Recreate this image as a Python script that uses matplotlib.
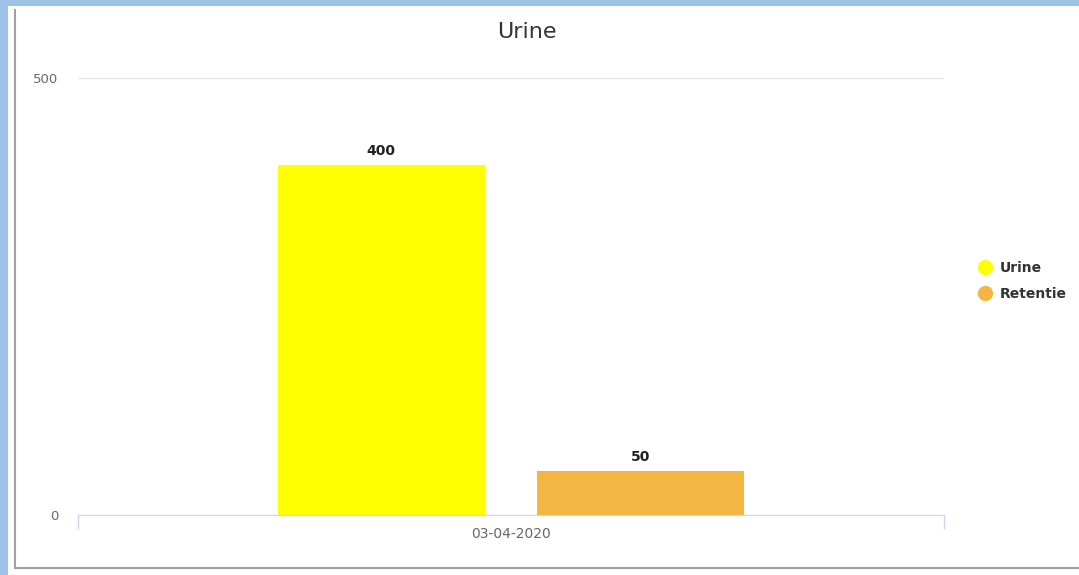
import matplotlib.pyplot as plt
from matplotlib.lines import Line2D
from matplotlib.patches import Rectangle

# chart data
title = "Urine"
category = "03-04-2020"
series_names = ["Urine", "Retentie"]
series_values = [400, 50]
series_colors = ["#ffff00", "#f4b642"]
y_max = 500

W, H = 1079, 575


def fx(px):
    return px / W


def fy(py):
    return 1 - py / H


fig = plt.figure(figsize=(W / 100, H / 100), dpi=100)
fig.patch.set_facecolor("#9dc3e6")

# white panel with grey frame (behind the axes)
fig.add_artist(Rectangle((fx(8), 0), 1 - fx(8), fy(6),
                         transform=fig.transFigure, facecolor="white",
                         edgecolor="none", zorder=-10))
fig.add_artist(Line2D([fx(15), fx(15)], [fy(10), fy(568)], color="#a0a0a0",
                      lw=1.5, zorder=-5))
fig.add_artist(Line2D([fx(15), fx(1079)], [fy(568), fy(568)], color="#a0a0a0",
                      lw=1.5, zorder=-5))

ax = fig.add_axes([fx(78), fy(515), fx(944 - 78), fy(78) - fy(515)])
ax.set_facecolor("none")

offsets = [-0.15, 0.15]
bar_w = 0.239
for off, val, col in zip(offsets, series_values, series_colors):
    ax.bar(off, val, width=bar_w, color=col, zorder=2)
    ax.annotate(str(val), (off, val), xytext=(0, 5), textcoords="offset points",
                ha="center", va="bottom", fontsize=10, fontweight="bold",
                color="#222222")

ax.set_xlim(-0.5, 0.5)
ax.set_ylim(0, y_max)
ax.set_yticks([0, y_max])
ax.yaxis.grid(True, color="#e6e6e6", lw=1)
ax.set_axisbelow(True)
ax.tick_params(axis="y", length=0, pad=14, labelsize=9.5, labelcolor="#666666")

ax.set_xticks([0])
ax.set_xticklabels([category])
ax.set_xticks([-0.5, 0.5], minor=True)
ax.tick_params(axis="x", which="major", length=0, pad=9, labelsize=10,
               labelcolor="#666666")
ax.tick_params(axis="x", which="minor", length=10, color="#ccd6eb", width=1)

for side in ["top", "right", "left"]:
    ax.spines[side].set_visible(False)
ax.spines["bottom"].set_color("#ccd6eb")

fig.text(fx(527), fy(32), title, ha="center", va="center", fontsize=16,
         color="#333333")

handles = [Line2D([], [], marker="o", linestyle="none", markersize=10,
                  markerfacecolor=c, markeredgecolor=c) for c in series_colors]
leg = fig.legend(handles, series_names, loc="center left",
                 bbox_to_anchor=(fx(964), fy(281)), frameon=False,
                 handletextpad=0.5, labelspacing=0.85, handlelength=1.2,
                 prop={"size": 10, "weight": "bold"})
for t in leg.get_texts():
    t.set_color("#333333")

fig.savefig("out.png", dpi=100)
